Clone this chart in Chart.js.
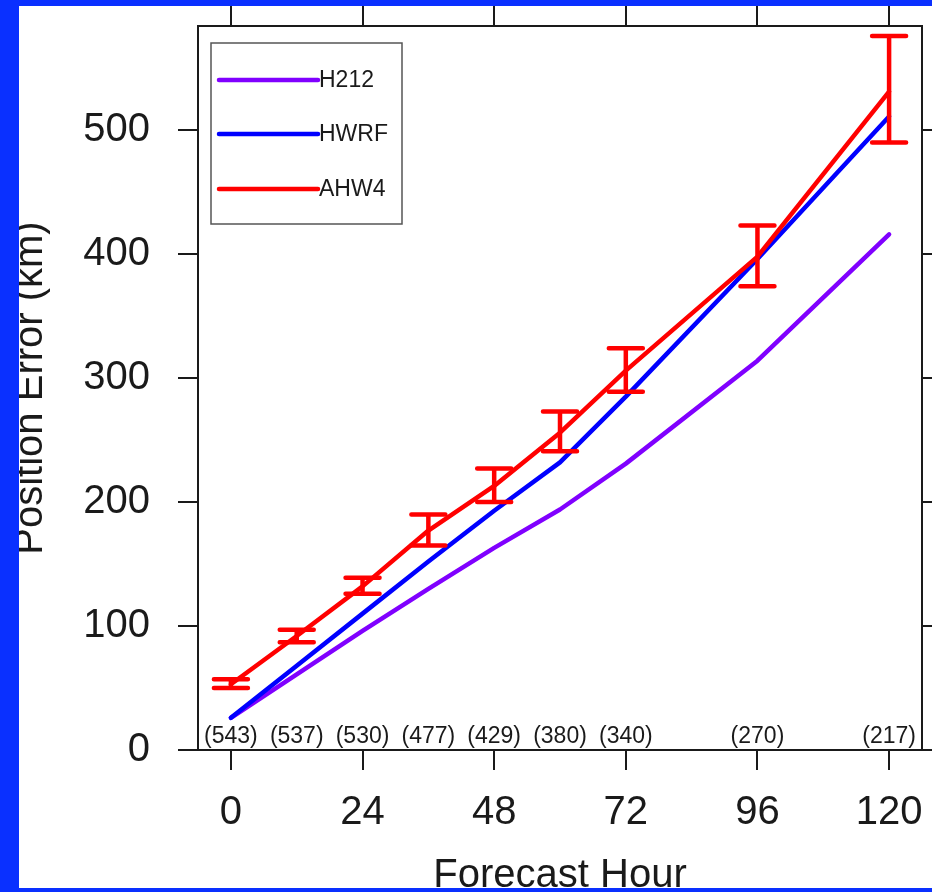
<!DOCTYPE html>
<html>
<head>
<meta charset="utf-8">
<script src="https://cdn.jsdelivr.net/npm/chart.js@4/dist/chart.umd.min.js"></script>
<style>
  html, body { margin: 0; padding: 0; background: #0a30ff; }
  canvas { display: block; }
</style>
</head>
<body>
<canvas id="trackChart" width="932" height="892"></canvas>
<script>
const hours = [0, 12, 24, 36, 48, 60, 72, 96, 120];
const h212 = [26, 61, 96, 130, 163, 194, 231, 314, 416];
const hwrf = [26, 68, 110, 152, 193, 232, 285, 396, 511];
const ahw4 = [53, 92, 132, 177, 213, 256, 306, 398, 531];
const ahw4Lo = [50, 87, 126, 165, 200, 241, 289, 374, 490];
const ahw4Hi = [57, 97, 139, 190, 227, 273, 324, 423, 576];
const caseCounts = ['(543)', '(537)', '(530)', '(477)', '(429)', '(380)', '(340)', '(270)', '(217)'];
const xTicks = [0, 24, 48, 72, 96, 120];
const yTicks = [0, 100, 200, 300, 400, 500];

const FONT = 'Liberation Sans, Arial, Helvetica, sans-serif';
const INK = '#1a1a1a';

function toPoints(vals) {
    return vals.map((v, i) => ({ x: hours[i], y: v }));
}

// fixed box sizes, and no extra padding for labels that overflow
function fixBox(size) {
    return s => {
        if (s.isHorizontal()) s.height = size; else s.width = size;
        s.paddingLeft = s.paddingRight = s.paddingTop = s.paddingBottom = 0;
    };
}

// white panel + blue frame strips around it
const panelPlugin = {
    id: 'panel',
    beforeDraw(chart) {
        const ctx = chart.ctx;
        ctx.save();
        ctx.fillStyle = '#ffffff';
        ctx.fillRect(19, 6, chart.width - 19, 882);
        ctx.restore();
    },
    afterDraw(chart) {
        const ctx = chart.ctx;
        ctx.save();
        ctx.fillStyle = '#0a30ff';
        ctx.fillRect(0, 0, 19, chart.height);
        ctx.fillRect(0, 0, chart.width, 6);
        ctx.fillRect(0, 888, chart.width, chart.height - 888);
        ctx.restore();
    }
};

// error bars for AHW4 and the case counts above the x axis
const extrasPlugin = {
    id: 'extras',
    afterDatasetsDraw(chart) {
        const ctx = chart.ctx;
        const xs = chart.scales.x;
        const ys = chart.scales.y;
        ctx.save();
        ctx.strokeStyle = '#ff0000';
        ctx.lineWidth = 4.5;
        ctx.lineCap = 'round';
        hours.forEach((h, i) => {
            const px = xs.getPixelForValue(h);
            const lo = ys.getPixelForValue(ahw4Lo[i]);
            const hi = ys.getPixelForValue(ahw4Hi[i]);
            ctx.beginPath();
            ctx.moveTo(px, lo); ctx.lineTo(px, hi);
            ctx.moveTo(px - 17, lo); ctx.lineTo(px + 17, lo);
            ctx.moveTo(px - 17, hi); ctx.lineTo(px + 17, hi);
            ctx.stroke();
        });
        ctx.fillStyle = INK;
        ctx.font = '23px ' + FONT;
        ctx.textAlign = 'center';
        ctx.textBaseline = 'alphabetic';
        const base = ys.getPixelForValue(0) - 7;
        hours.forEach((h, i) => {
            ctx.fillText(caseCounts[i], xs.getPixelForValue(h), base);
        });
        ctx.restore();
    },
    afterDraw(chart) {
        // legend box, top left inside the plot
        const ctx = chart.ctx;
        ctx.save();
        ctx.strokeStyle = '#555';
        ctx.lineWidth = 1.5;
        ctx.strokeRect(211, 43, 191, 181);
        ctx.font = '23px ' + FONT;
        ctx.textBaseline = 'middle';
        ctx.textAlign = 'left';
        const rows = [80, 134, 189];
        chart.data.datasets.forEach((ds, i) => {
            ctx.strokeStyle = ds.borderColor;
            ctx.lineWidth = 4.5;
            ctx.lineCap = 'round';
            ctx.beginPath();
            ctx.moveTo(219, rows[i]);
            ctx.lineTo(318, rows[i]);
            ctx.stroke();
            ctx.fillStyle = INK;
            ctx.fillText(ds.label, 319, rows[i] + 1);
        });
        ctx.restore();
    }
};

const gridOpts = { drawOnChartArea: false, drawTicks: true, tickLength: 20, color: INK, lineWidth: 2 };
const borderOpts = { display: true, color: INK, width: 2 };

new Chart(document.getElementById('trackChart'), {
    type: 'line',
    data: {
        datasets: [
            { label: 'H212', data: toPoints(h212), borderColor: '#8000ff', order: 3 },
            { label: 'HWRF', data: toPoints(hwrf), borderColor: '#0000ff', order: 2 },
            { label: 'AHW4', data: toPoints(ahw4), borderColor: '#ff0000', order: 1 }
        ]
    },
    options: {
        responsive: false,
        animation: false,
        devicePixelRatio: 1,
        layout: { padding: 0 },
        elements: {
            line: { borderWidth: 4.5, tension: 0, borderCapStyle: 'round', borderJoinStyle: 'round', fill: false },
            point: { radius: 0, hoverRadius: 0 }
        },
        plugins: { legend: { display: false }, tooltip: { enabled: false } },
        scales: {
            x: {
                type: 'linear', position: 'bottom', min: -6, max: 126,
                afterBuildTicks: s => { s.ticks = xTicks.map(v => ({ value: v })); },
                afterFit: fixBox(142),
                ticks: { color: INK, padding: 23, maxRotation: 0, font: { family: FONT, size: 40, lineHeight: 1 } },
                grid: gridOpts, border: borderOpts,
                title: { display: true, text: 'Forecast Hour', color: INK, padding: { top: 0, bottom: -4 },
                         font: { family: FONT, size: 40, lineHeight: 1 } }
            },
            x2: {
                type: 'linear', position: 'top', min: -6, max: 126,
                afterBuildTicks: s => { s.ticks = xTicks.map(v => ({ value: v })); },
                afterFit: fixBox(26),
                ticks: { display: false },
                grid: gridOpts, border: borderOpts
            },
            y: {
                type: 'linear', position: 'left', min: 0, max: 584,
                afterBuildTicks: s => { s.ticks = yTicks.map(v => ({ value: v })); },
                afterFit: fixBox(198),
                ticks: { color: INK, padding: 28, font: { family: FONT, size: 40, lineHeight: 1 } },
                grid: gridOpts, border: borderOpts,
                title: { display: true, text: 'Position Error (km)', color: INK, padding: { top: 11, bottom: 0 },
                         font: { family: FONT, size: 40, lineHeight: 1 } }
            },
            y2: {
                type: 'linear', position: 'right', min: 0, max: 584,
                afterBuildTicks: s => { s.ticks = yTicks.map(v => ({ value: v })); },
                afterFit: fixBox(10),
                ticks: { display: false },
                grid: gridOpts, border: borderOpts
            }
        }
    },
    plugins: [panelPlugin, extrasPlugin]
});
</script>
</body>
</html>
